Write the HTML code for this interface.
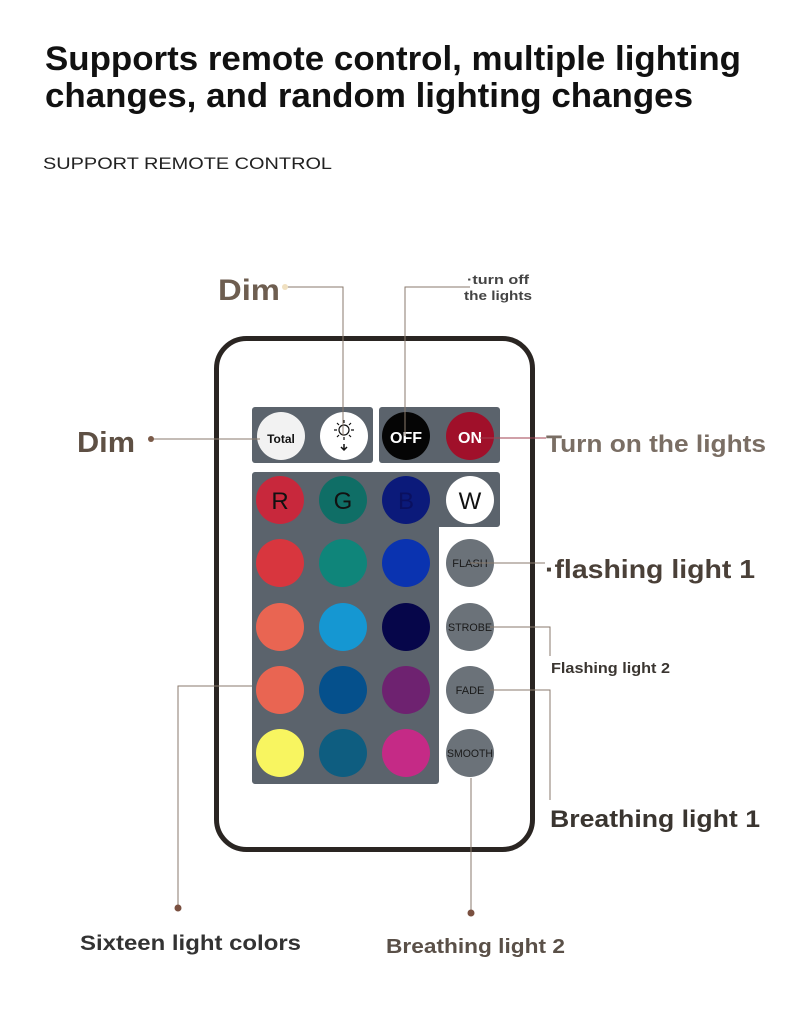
<!DOCTYPE html>
<html><head><meta charset="utf-8"><style>
body{margin:0;background:#fff;}
svg{display:block}
text{font-family:"Liberation Sans",sans-serif;font-weight:bold}
text.n{font-weight:normal}
</style></head><body>
<svg width="790" height="1029" viewBox="0 0 790 1029" xmlns="http://www.w3.org/2000/svg">
<rect width="790" height="1029" fill="#fff"/>
<text x="45" y="70" font-size="34" fill="#111" textLength="696" lengthAdjust="spacingAndGlyphs">Supports remote control, multiple lighting</text>
<text x="45" y="107" font-size="34" fill="#111" textLength="648" lengthAdjust="spacingAndGlyphs">changes, and random lighting changes</text>
<text class="n" x="43" y="169" font-size="17" fill="#222" textLength="289" lengthAdjust="spacingAndGlyphs">SUPPORT REMOTE CONTROL</text>

<rect x="216.5" y="338.5" width="316" height="511" rx="30" fill="#fff" stroke="#2a2522" stroke-width="5"/>
<rect x="252" y="407" width="121" height="56" rx="3" fill="#5b636c"/>
<rect x="379" y="407" width="121" height="56" rx="3" fill="#5b636c"/>
<path d="M255 472 H497 a3 3 0 0 1 3 3 V524 a3 3 0 0 1 -3 3 H439 V781 a3 3 0 0 1 -3 3 H255 a3 3 0 0 1 -3 -3 V475 a3 3 0 0 1 3 -3Z" fill="#5b636c"/>

<g>
<circle cx="281" cy="436" r="24" fill="#f2f2f2"/>
<circle cx="344" cy="436" r="24" fill="#fff"/>
<circle cx="406" cy="436" r="24" fill="#050505"/>
<circle cx="470" cy="436" r="24" fill="#a0102a"/>
<circle cx="280" cy="500" r="24" fill="#c8283c"/>
<circle cx="343" cy="500" r="24" fill="#0f6e66"/>
<circle cx="406" cy="500" r="24" fill="#0b1a7a"/>
<circle cx="470" cy="500" r="24" fill="#fff"/>
<circle cx="280" cy="563" r="24" fill="#d8363e"/>
<circle cx="343" cy="563" r="24" fill="#0f857a"/>
<circle cx="406" cy="563" r="24" fill="#0a33b0"/>
<circle cx="470" cy="563" r="24" fill="#6b7279"/>
<circle cx="280" cy="627" r="24" fill="#e96552"/>
<circle cx="343" cy="627" r="24" fill="#1597d2"/>
<circle cx="406" cy="627" r="24" fill="#06064a"/>
<circle cx="470" cy="627" r="24" fill="#6b7279"/>
<circle cx="280" cy="690" r="24" fill="#e96552"/>
<circle cx="343" cy="690" r="24" fill="#05508c"/>
<circle cx="406" cy="690" r="24" fill="#6e2270"/>
<circle cx="470" cy="690" r="24" fill="#6b7279"/>
<circle cx="280" cy="753" r="24" fill="#f8f560"/>
<circle cx="343" cy="753" r="24" fill="#0e5d80"/>
<circle cx="406" cy="753" r="24" fill="#c52a86"/>
<circle cx="470" cy="753" r="24" fill="#6b7279"/>
</g>
<text x="281" y="443" font-size="12" fill="#111" text-anchor="middle">Total</text>
<g stroke="#111" stroke-width="1.2" fill="none"><circle cx="344" cy="430" r="5"/><path d="M344 420v3M344 437v3M334 430h3M351 430h3M337 423l2 2M349 435l2 2M351 423l-2 2M337 437l2-2"/></g>
<path d="M344 444v5M341 447l3 3 3-3" stroke="#111" stroke-width="1.5" fill="none"/>
<text x="406" y="443" font-size="16" fill="#fff" text-anchor="middle">OFF</text>
<text x="470" y="443" font-size="16" fill="#fff" text-anchor="middle">ON</text>
<g font-size="24" text-anchor="middle">
<text class="n" x="280" y="509" fill="#111">R</text>
<text class="n" x="343" y="509" fill="#111">G</text>
<text class="n" x="406" y="509" fill="#0a1060">B</text>
<text class="n" x="470" y="509" fill="#111">W</text>
</g>
<g font-size="11" fill="#1a1a1a" text-anchor="middle">
<text class="n" x="470" y="567">FLASH</text>
<text class="n" x="470" y="631" textLength="44" lengthAdjust="spacingAndGlyphs">STROBE</text>
<text class="n" x="470" y="694">FADE</text>
<text class="n" x="470" y="757" textLength="46" lengthAdjust="spacingAndGlyphs">SMOOTH</text>
</g>

<g stroke="#8a7a6c" stroke-width="1" fill="none">
<path d="M285 287H343V436"/>
<path d="M470 287H405V436"/>
<path d="M151 439H260"/>
<path d="M480 438H546" stroke="#a04050"/>
<path d="M470 563H545"/>
<path d="M490 627H550V656"/>
<path d="M490 690H550V800"/>
<path d="M471 778V913"/>
<path d="M252 686H178V908"/>
</g>
<circle cx="285" cy="287" r="3" fill="#f0e0c0"/>
<circle cx="151" cy="439" r="3" fill="#7a5a48"/>
<circle cx="471" cy="913" r="3.5" fill="#7a5040"/>
<circle cx="178" cy="908" r="3.5" fill="#7a5040"/>

<text x="218" y="300" font-size="30" fill="#6e5e50" textLength="62" lengthAdjust="spacingAndGlyphs">Dim</text>
<text x="467" y="284" font-size="13" fill="#444" textLength="62" lengthAdjust="spacingAndGlyphs">·turn off</text>
<text x="464" y="300" font-size="13" fill="#444" textLength="68" lengthAdjust="spacingAndGlyphs">the lights</text>
<text x="77" y="452" font-size="29" fill="#5e5044" textLength="58" lengthAdjust="spacingAndGlyphs">Dim</text>
<text x="546" y="452" font-size="24" fill="#7a6e64" textLength="220" lengthAdjust="spacingAndGlyphs">Turn on the lights</text>
<text x="545" y="578" font-size="26" fill="#4a4038" textLength="210" lengthAdjust="spacingAndGlyphs">·flashing light 1</text>
<text x="551" y="673" font-size="15" fill="#3a3530" textLength="119" lengthAdjust="spacingAndGlyphs">Flashing light 2</text>
<text x="550" y="827" font-size="24" fill="#3a3530" textLength="210" lengthAdjust="spacingAndGlyphs">Breathing light 1</text>
<text x="386" y="953" font-size="20" fill="#5a5048" textLength="179" lengthAdjust="spacingAndGlyphs">Breathing light 2</text>
<text x="80" y="950" font-size="21" fill="#333" textLength="221" lengthAdjust="spacingAndGlyphs">Sixteen light colors</text>
</svg>
</body></html>
